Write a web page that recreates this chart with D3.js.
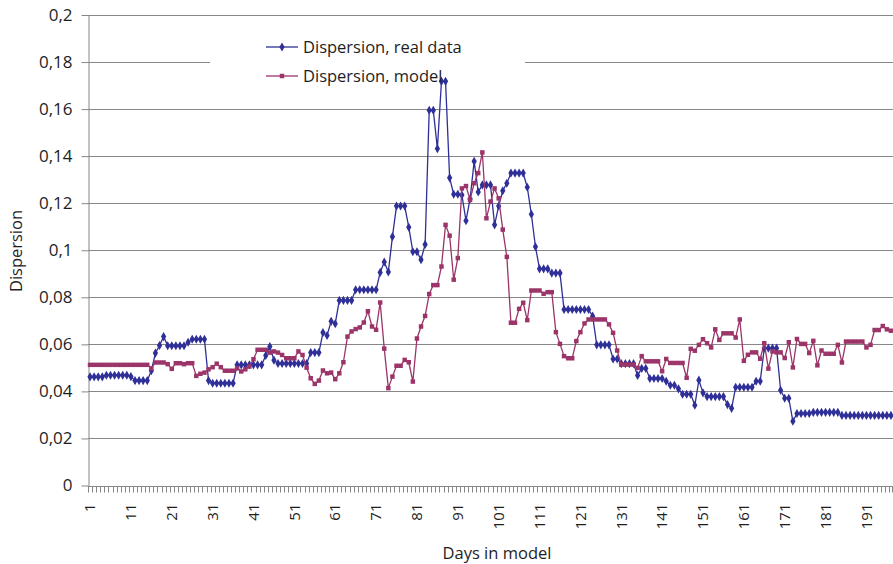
<!DOCTYPE html>
<html><head><meta charset="utf-8">
<script src="https://cdn.jsdelivr.net/npm/d3@7"></script>
<style>
body{margin:0;background:#fff}
svg{display:block}
text{font-family:"Open Sans",sans-serif;fill:#1e1e1e}
</style>
</head><body>
<svg id="c" width="893" height="564"></svg>
<script>
// ---- data ----
const days = d3.range(1, 198); // categories: day 1 .. 197
const xTickLabels = [1, 11, 21, 31, 41, 51, 61, 71, 81, 91, 101, 111, 121, 131, 141, 151, 161, 171, 181, 191];
const yTicks = [0, 0.02, 0.04, 0.06, 0.08, 0.1, 0.12, 0.14, 0.16, 0.18, 0.2];
const yTickLabels = ["0", "0,02", "0,04", "0,06", "0,08", "0,1", "0,12", "0,14", "0,16", "0,18", "0,2"];
const seriesNames = ["Dispersion, real data", "Dispersion, model"];
const xTitle = "Days in model";
const yTitle = "Dispersion";

const realData = [
  0.0464, 0.0464, 0.0464, 0.0464, 0.0471, 0.0471, 0.0471, 0.0471, 0.0471, 0.0471,
  0.0465, 0.0448, 0.0448, 0.0448, 0.0448, 0.049, 0.0565, 0.0597, 0.0635, 0.0596,
  0.0596, 0.0596, 0.0596, 0.0596, 0.0611, 0.0624, 0.0624, 0.0624, 0.0624, 0.0448,
  0.0437, 0.0437, 0.0437, 0.0437, 0.0437, 0.0437, 0.0515, 0.0515, 0.0515, 0.0515,
  0.0515, 0.0515, 0.0515, 0.0555, 0.0593, 0.0535, 0.0521, 0.0521, 0.0521, 0.0521,
  0.0521, 0.0521, 0.0521, 0.0521, 0.0567, 0.0567, 0.0567, 0.0652, 0.064, 0.070,
  0.069, 0.0789, 0.0789, 0.0789, 0.0789, 0.0834, 0.0834, 0.0834, 0.0834, 0.0834,
  0.0834, 0.0908, 0.0952, 0.091, 0.106, 0.119, 0.119, 0.119, 0.110, 0.0996,
  0.0996, 0.0962, 0.1027, 0.1597, 0.1597, 0.1434, 0.172, 0.172, 0.131, 0.124,
  0.124, 0.1237, 0.1128, 0.122, 0.138, 0.125, 0.128, 0.128, 0.128, 0.111,
  0.119, 0.1255, 0.1287, 0.133, 0.133, 0.133, 0.133, 0.127, 0.1155, 0.1017,
  0.0923, 0.0923, 0.0923, 0.0905, 0.0905, 0.0905, 0.075, 0.075, 0.075, 0.075,
  0.075, 0.075, 0.075, 0.0722, 0.060, 0.060, 0.060, 0.060, 0.054, 0.054,
  0.052, 0.052, 0.052, 0.052, 0.047, 0.050, 0.050, 0.0457, 0.0457, 0.0457,
  0.0457, 0.0445, 0.0428, 0.0428, 0.0413, 0.039, 0.039, 0.039, 0.0343, 0.045,
  0.0396, 0.038, 0.038, 0.038, 0.038, 0.038, 0.0346, 0.033, 0.042, 0.042,
  0.042, 0.042, 0.042, 0.0445, 0.0445, 0.0586, 0.0586, 0.0586, 0.0586, 0.0407,
  0.0373, 0.0373, 0.0275, 0.0308, 0.0308, 0.0308, 0.0308, 0.0313, 0.0313, 0.0313,
  0.0313, 0.0313, 0.0313, 0.0313, 0.030, 0.030, 0.030, 0.030, 0.030, 0.030,
  0.030, 0.030, 0.030, 0.030, 0.030, 0.030, 0.030
];

const modelData = [
  0.0515, 0.0515, 0.0515, 0.0515, 0.0515, 0.0515, 0.0515, 0.0515, 0.0515, 0.0515,
  0.0515, 0.0515, 0.0515, 0.0515, 0.0515, 0.050, 0.0525, 0.0525, 0.0525, 0.0518,
  0.0498, 0.0522, 0.0522, 0.0518, 0.0522, 0.0522, 0.0468, 0.0477, 0.0482, 0.0496,
  0.0505, 0.052, 0.0505, 0.049, 0.049, 0.049, 0.050, 0.0487, 0.0496, 0.0508,
  0.0539, 0.0579, 0.0579, 0.0579, 0.0567, 0.0572, 0.0567, 0.0557, 0.0543, 0.0543,
  0.0543, 0.0572, 0.0557, 0.0503, 0.0458, 0.0434, 0.0448, 0.0491, 0.0479, 0.0482,
  0.0454, 0.0479, 0.0526, 0.0635, 0.0657, 0.0667, 0.0674, 0.0695, 0.0743, 0.0678,
  0.0664, 0.078, 0.0584, 0.0416, 0.0465, 0.0511, 0.0511, 0.0536, 0.0526, 0.0444,
  0.0627, 0.0678, 0.0723, 0.0816, 0.0854, 0.0854, 0.0933, 0.111, 0.1064, 0.0877,
  0.0969, 0.1265, 0.1275, 0.1216, 0.1287, 0.133, 0.1418, 0.1138, 0.1209, 0.1265,
  0.1223, 0.109, 0.0974, 0.0694, 0.0694, 0.0753, 0.0779, 0.0705, 0.0831, 0.0831,
  0.0831, 0.0817, 0.0824, 0.0824, 0.0654, 0.0604, 0.0552, 0.0543, 0.0543, 0.0616,
  0.0654, 0.0691, 0.0708, 0.0708, 0.0708, 0.0708, 0.0708, 0.0687, 0.0651, 0.0576,
  0.0516, 0.0516, 0.0516, 0.0516, 0.0502, 0.0552, 0.053, 0.053, 0.053, 0.053,
  0.0488, 0.054, 0.0523, 0.0523, 0.0523, 0.0523, 0.046, 0.0583, 0.0575, 0.060,
  0.0624, 0.0607, 0.0589, 0.0666, 0.0621, 0.0649, 0.0649, 0.0649, 0.0631, 0.0708,
  0.0532, 0.0558, 0.0568, 0.0568, 0.0541, 0.0607, 0.0499, 0.0572, 0.0568, 0.0568,
  0.0544, 0.0611, 0.0504, 0.0625, 0.0604, 0.0604, 0.0565, 0.0617, 0.0513, 0.0576,
  0.0562, 0.0562, 0.0562, 0.060, 0.0525, 0.0614, 0.0614, 0.0614, 0.0614, 0.0614,
  0.0589, 0.060, 0.0663, 0.0663, 0.068, 0.0666, 0.066
];

// ---- layout ----
const W = 893, H = 564;
const plot = {left: 88, right: 893, top: 15.5, bottom: 486};
const gridColor = "#878787";
const realColor = "#2f2f98";
const modelColor = "#9b3468";

const svg = d3.select("#c");
svg.append("rect").attr("width", W).attr("height", H).attr("fill", "#fff");

const x = d3.scaleBand().domain(days).range([plot.left, plot.right]).padding(0);
const y = d3.scaleLinear().domain([0, 0.2]).range([plot.bottom, plot.top]);
const cx = d => x(d) + x.bandwidth() / 2;
const crisp = v => Math.round(v) + 0.5;

// gridlines
svg.append("g").selectAll("line").data(yTicks.filter(v => v > 0)).join("line")
  .attr("x1", plot.left).attr("x2", plot.right)
  .attr("y1", d => crisp(y(d) - 0.5)).attr("y2", d => crisp(y(d) - 0.5))
  .attr("stroke", gridColor).attr("stroke-width", 1);

// legend background box (covers the gridline behind the legend)
svg.append("rect").attr("x", 210).attr("y", 30).attr("width", 315).attr("height", 62).attr("fill", "#fff");

// y axis
const yAxis = d3.axisLeft(y).tickValues(yTicks)
  .tickFormat((d, i) => yTickLabels[i]).tickSizeInner(7).tickSizeOuter(0).tickPadding(9);
const gy = svg.append("g").attr("transform", `translate(${plot.left + 0.5},-0.5)`).call(yAxis);
gy.select(".domain").attr("stroke", gridColor);
gy.selectAll(".tick line").attr("stroke", gridColor);
gy.selectAll(".tick text").attr("font-size", 17).attr("font-family", "Open Sans").attr("fill", "#1e1e1e");

// x axis
const xAxis = d3.axisBottom(x).tickValues(xTickLabels).tickSize(0).tickPadding(0);
const gx = svg.append("g").attr("transform", `translate(0,${crisp(plot.bottom - 0.5)})`).call(xAxis);
gx.select(".domain").remove();
gx.append("line").attr("x1", plot.left).attr("x2", plot.right).attr("stroke", gridColor);
gx.selectAll(".tick text")
  .attr("font-size", 15).attr("font-family", "Open Sans").attr("fill", "#1e1e1e")
  .attr("text-anchor", "end").attr("dy", "0.35em")
  .attr("transform", "translate(0,17) rotate(-90)")
  .attr("x", 0).attr("y", 0);
// minor ticks at category boundaries
gx.append("g").selectAll("line").data(days.concat([null])).join("line")
  .attr("x1", d => d === null ? plot.right - 0.5 : crisp(x(d)))
  .attr("x2", d => d === null ? plot.right - 0.5 : crisp(x(d)))
  .attr("y1", 0).attr("y2", 6).attr("stroke", gridColor).attr("stroke-width", 1);

// axis titles
svg.append("text").attr("x", 497).attr("y", 559).attr("text-anchor", "middle")
  .attr("font-size", 16.5).text(xTitle);
svg.append("text").attr("transform", "translate(22,251) rotate(-90)").attr("text-anchor", "middle")
  .attr("font-size", 16.5).text(yTitle);

// series
const series = [
  {name: seriesNames[0], values: realData, color: realColor, symbol: d3.symbolDiamond, size: 24},
  {name: seriesNames[1], values: modelData, color: modelColor, symbol: d3.symbolSquare, size: 20}
];
const line = d3.line().x((v, i) => cx(days[i])).y(v => y(v));
series.forEach(s => {
  const g = svg.append("g");
  g.append("path").attr("d", line(s.values)).attr("fill", "none")
    .attr("stroke", s.color).attr("stroke-width", 1.3).attr("stroke-linejoin", "round");
  g.selectAll("path.m").data(s.values).join("path").attr("class", "m")
    .attr("d", d3.symbol().type(s.symbol).size(s.size))
    .attr("transform", (v, i) => `translate(${cx(days[i])},${y(v)})`)
    .attr("fill", s.color);
});

// legend entries
const legend = svg.append("g");
series.forEach((s, i) => {
  const ly = 47 + i * 29;
  legend.append("line").attr("x1", 266).attr("x2", 298).attr("y1", ly).attr("y2", ly)
    .attr("stroke", s.color).attr("stroke-width", 1.3);
  legend.append("path").attr("d", d3.symbol().type(s.symbol).size(s.size))
    .attr("transform", `translate(282,${ly})`).attr("fill", s.color);
  legend.append("text").attr("x", 303).attr("y", ly).attr("dy", "0.35em")
    .attr("font-size", 16.5).text(s.name);
});
</script>
</body></html>
